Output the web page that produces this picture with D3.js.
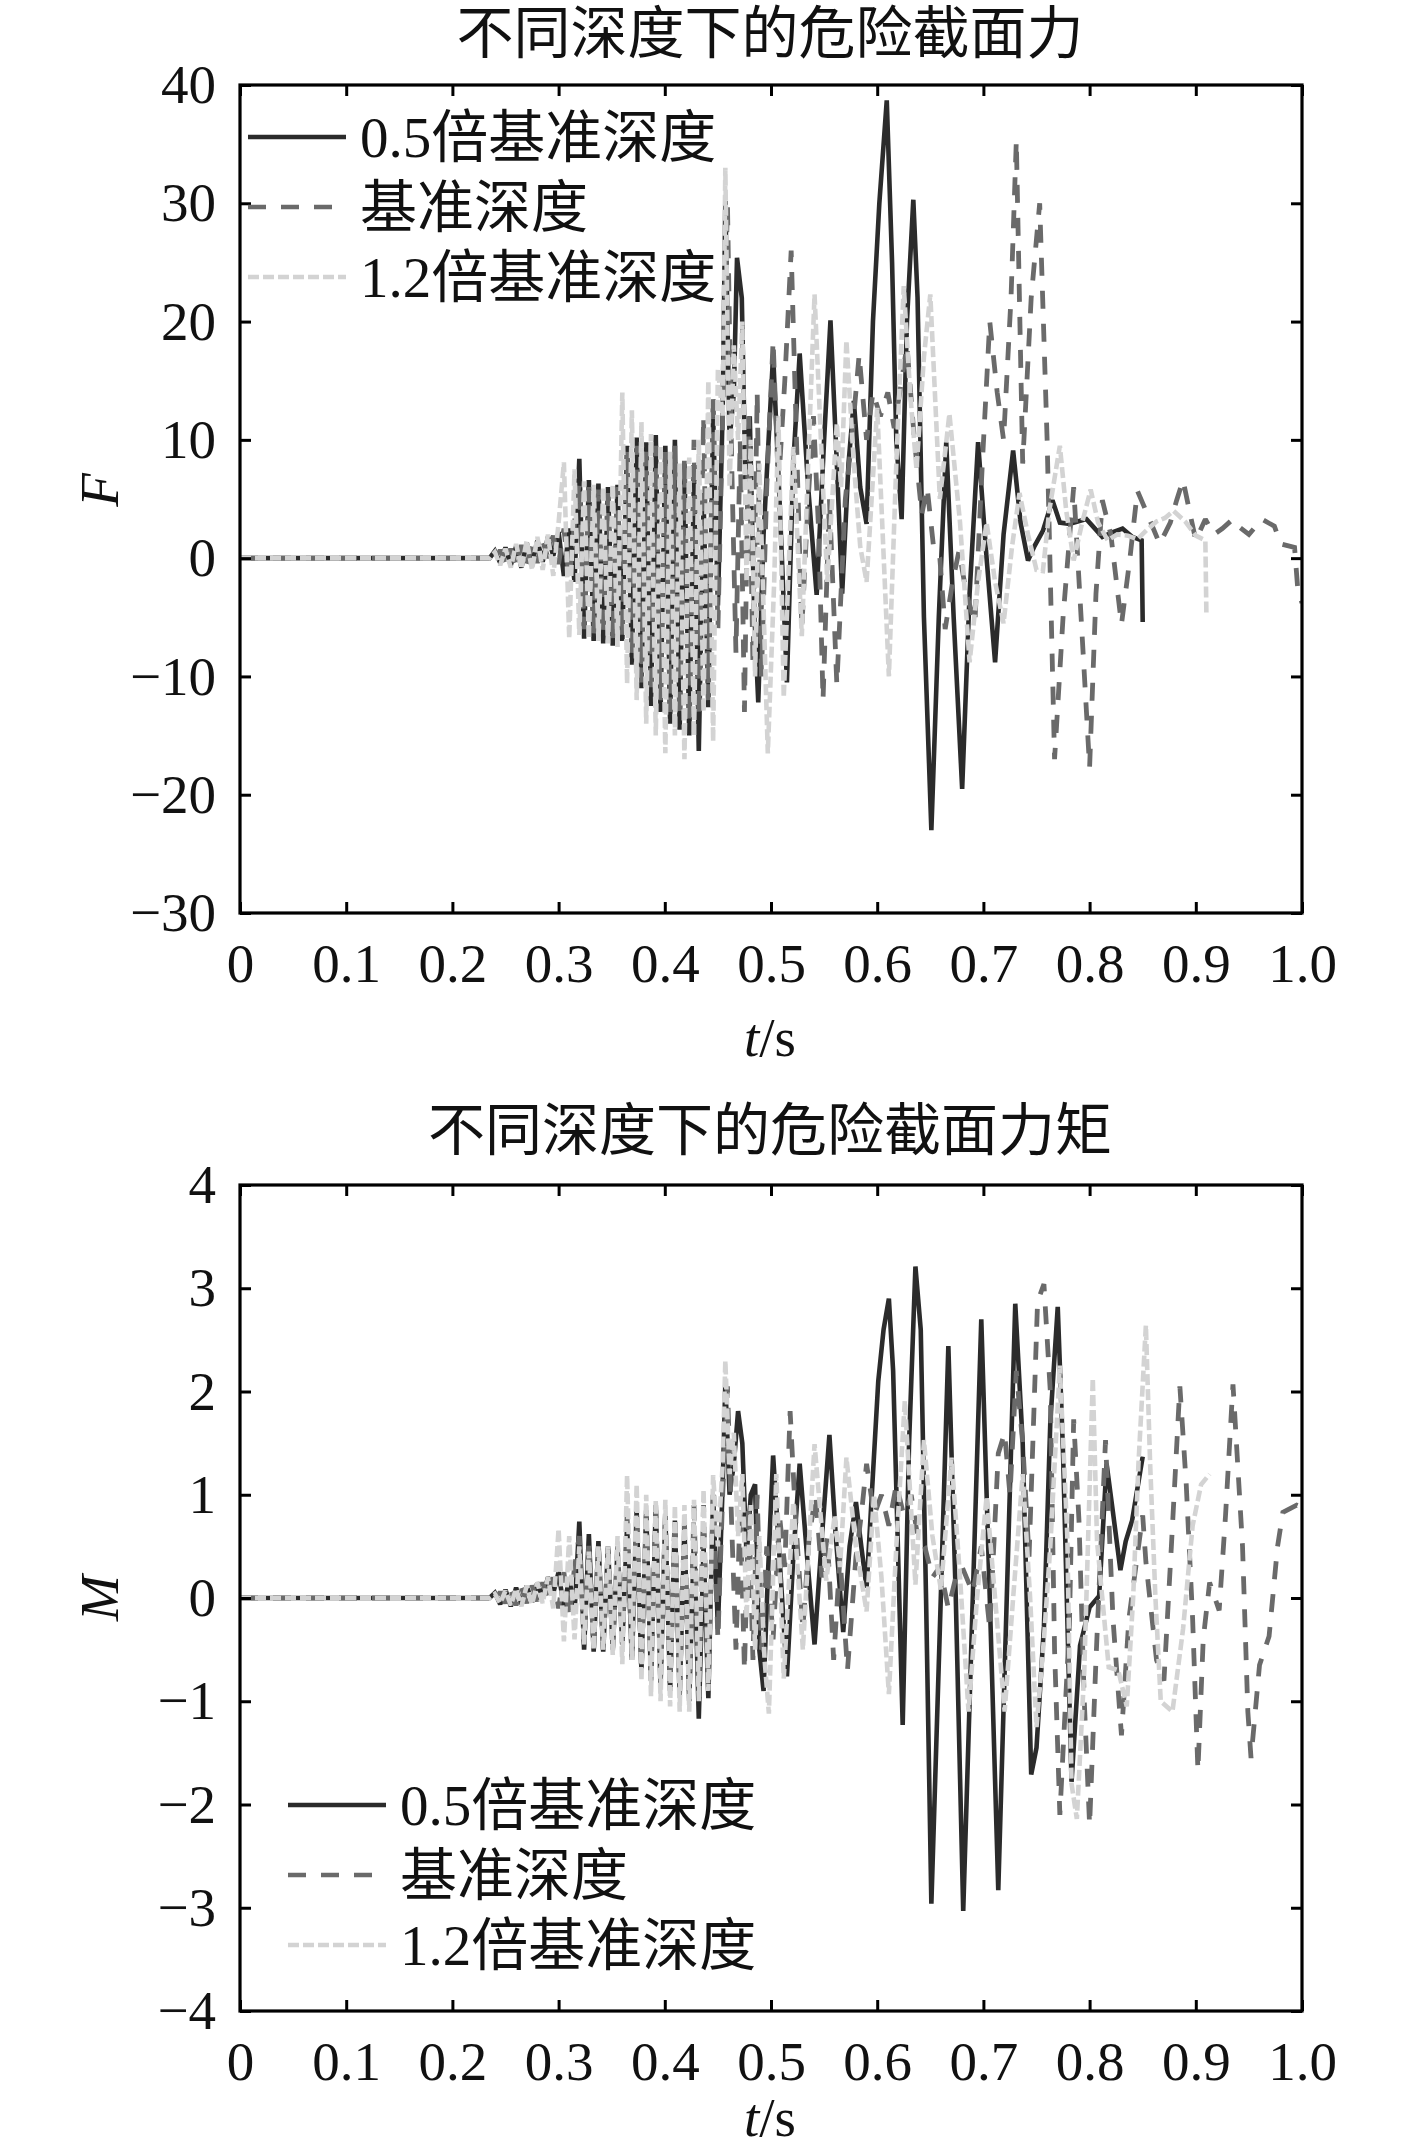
<!DOCTYPE html>
<html><head><meta charset="utf-8">
<script src="https://cdn.jsdelivr.net/npm/d3@7"></script>
<style>
html,body{margin:0;padding:0;background:#fff;}
svg{display:block;}
</style>
</head><body>
<svg id="chart" width="1417" height="2151"></svg>
<script>
// ---------- DATA ----------
const seriesNames = ["0.5倍基准深度", "基准深度", "1.2倍基准深度"];
const chartTitles = ["不同深度下的危险截面力", "不同深度下的危险截面力矩"];
const yLabels = ["F", "M"];
const xTicks = [0,0.1,0.2,0.3,0.4,0.5,0.6,0.7,0.8,0.9,1.0];
const fTicks = [-30,-20,-10,0,10,20,30,40];
const mTicks = [-4,-3,-2,-1,0,1,2,3,4];

// common time grid of the dense early part (s)
const tEarly = [0,0.235,0.24,0.245,0.25,0.255,0.26,0.265,0.27,0.275,0.28,0.285,0.29,0.295,0.300,0.305,0.310,0.315,
  0.3195,0.324,0.3285,0.333,0.3375,0.342,0.3465,0.351,0.3555,0.360,0.3645,0.369,0.3735,0.378,0.3825,0.387,0.3915,0.396,
  0.4005,0.405,0.4095,0.414,0.4185,0.423,0.4275,0.432,0.4365,0.441,0.4455,0.450,0.4545];

// ---- F, 0.5x ----
const fEarly05 = [0,0,0.6,-0.4,0.9,-0.6,1.0,-0.8,1.3,-0.5,1.5,-0.3,1.8,0.2,2.2,-1.5,2.5,-2.0,
  8.4,-6.8,6.6,-7.0,6.3,-7.2,6.0,-7.4,6.2,-7.0,9.5,-9.0,10.2,-11.0,9.8,-12.5,10.4,-13.0,
  9.5,-14.0,10.0,-14.5,8.0,-15.0,7.0,-16.3,5.0,-12.6,12.0,-4.0,12.5];
const fLateT05 = [0.457,0.461,0.465,0.468,0.4725,0.476,0.48,0.484,0.488,0.493,
  0.502,0.508,0.515,0.521,0.527,0.535,0.543,0.55,0.556,0.562,
  0.567,0.573,0.578,0.584,0.590,0.596,0.602,0.609,0.614,0.618,
  0.623,0.628,0.634,0.638,0.644,0.651,0.658,0.665,0.672,0.680,
  0.687,0.695,0.703,0.711,0.719,0.728,0.735,0.742,0.748,0.756,
  0.765,0.772,0.781,0.797,0.812,0.822,0.831,0.840,0.849,0.850];
const fLateV05 = [30.2,10,14,25.4,22,6,12,-4,-12.2,2,
  17.2,5,-10.5,8,17.3,6,-3.1,10,20.1,8,
  -3.0,8,13.3,6,2.9,20,30,38.7,25,10,
  3.3,20,30.3,22,-5,-23,-5,9.8,-5,-19.5,
  -3,9.8,0,-8.8,2,9.1,3,-0.2,1,2.3,
  4.9,3.0,2.9,3.3,1.8,2.2,2.5,1.8,1.5,-5.4];

// ---- F, base ----
const fEarlyB = [0,0,-0.3,0.7,-0.5,0.8,-0.7,1.1,-0.6,1.2,-0.4,1.5,0,1.9,-0.5,2.5,-1.8,3.0,
  6.5,-6.0,6.0,-6.5,5.8,-6.6,5.5,-7.0,6.0,-6.8,9,-8.5,9.5,-10.5,9.0,-11.5,9.5,-12.0,
  9,-13,9.5,-13.5,8.5,-14,10,-13.5,12,-12,14,-6,12];
const fLateTB = [0.459,0.463,0.467,0.471,0.475,0.479,0.483,0.487,0.491,0.496,
  0.502,0.507,0.513,0.519,0.524,0.529,0.535,0.540,0.545,0.549,
  0.555,0.562,0.57,0.576,0.583,0.590,0.596,0.603,0.610,0.616,
  0.623,0.628,0.635,0.642,0.647,0.653,0.659,0.664,0.671,0.677,
  0.684,0.692,0.699,0.706,0.713,0.719,0.726,0.731,0.737,0.745,
  0.753,0.760,0.767,0.775,0.785,0.792,0.8,0.806,0.812,0.82,
  0.83,0.838,0.845,0.854,0.866,0.876,0.882,0.888,0.894,0.900,
  0.909,0.917,0.925,0.935,0.94,0.95,0.962,0.974,0.98,0.993,
  0.996,1.0];
const fLateVB = [30,8,-8,10,-13,12,-9,14,-10,6,
  18.4,6,15,26,10,-6,5,12,2,-12,
  5,-10.7,5,10,17.2,10,14,12,14,11,
  15,18,10,3.7,6,1,0,-6,-2,0.6,
  -3,-5.5,8,20,14,10,22,35.3,8,22,
  30,10,-17,-5,6,-5,-17.7,-3,4.9,2,
  -5.6,0,5.7,3.8,1.2,3,4.9,6.6,4,1.5,
  3.3,2,2.5,3.3,2.7,2.0,3.3,2.7,1.2,0.9,
  -2.6,-3.8];

// ---- F, 1.2x ----
const fEarly12 = [0,0,0.5,-0.6,0.8,-0.8,1.2,-0.9,1.5,-1.0,1.8,-1.0,2.0,-1.5,3.0,8.1,-6.8,7.5,
  -6.5,6.5,-6.8,6.2,-7.0,6.0,-7.2,6.2,-7.5,14.0,-10.6,12.5,-12,11.5,-14,10.5,-15,9.5,
  -16.5,9.0,-15,8.0,-17,8.5,-15,10,-13,15,-15.5,16,12];
const fLateT12 = [0.457,0.461,0.465,0.469,0.473,0.477,0.481,0.485,0.489,0.497,
  0.503,0.507,0.512,0.521,0.529,0.535,0.541,0.548,0.553,0.562,
  0.566,0.571,0.578,0.584,0.590,0.600,0.611,0.618,0.625,0.631,
  0.637,0.644,0.650,0.659,0.668,0.678,0.687,0.695,0.703,0.711,
  0.719,0.727,0.734,0.742,0.750,0.756,0.762,0.772,0.778,0.785,
  0.793,0.801,0.808,0.817,0.826,0.836,0.845,0.854,0.863,0.871,
  0.879,0.89,0.9,0.909,0.91];
const fLateV12 = [33,6,18,10,20,-2,10,-10,8,-16.5,
  -2,12,-11.8,9.4,-6.6,8,22.3,8,-2,11.4,
  6,18.4,8,1,-2,12.7,-10,8,23,14,
  7.5,17,22.3,5,12.2,3,-8.8,-2,3,-2,
  -5.5,1,5.5,2,-1,-1.1,4,9.5,4,-0.2,
  3,5.8,3,1.5,2,1.9,1.6,2.4,3.1,3.4,
  4,3.1,1.9,1.5,-4.9];

// ---- M, 0.5x ----
const mEarly05 = [0,0,0.05,-0.06,0.08,-0.08,0.1,-0.06,0.12,-0.04,0.15,0,0.2,0.05,0.25,-0.1,0.2,-0.15,
  0.74,-0.5,0.62,-0.52,0.55,-0.52,0.5,-0.5,0.48,-0.45,0.7,-0.6,0.85,-0.7,0.85,-0.8,0.9,-0.85,
  0.8,-0.9,0.75,-0.95,0.7,-1.0,0.6,-1.17,0.5,-0.97,1.0,-0.3,1.1];
const mLateT05 = [0.457,0.461,0.465,0.469,0.473,0.477,0.481,0.485,0.489,0.493,0.497,0.502,0.508,0.515,0.521,0.527,0.534,0.541,0.548,0.555,0.561,0.568,0.574,0.58,0.585,0.59,0.596,0.601,0.606,0.611,0.615,0.62,0.624,0.63,0.636,0.641,0.646,0.651,0.659,0.667,0.674,0.681,0.69,0.698,0.706,0.714,0.722,0.73,0.737,0.745,0.75,0.757,0.763,0.77,0.775,0.783,0.791,0.8,0.809,0.816,0.822,0.829,0.834,0.84,0.85];
const mLateV05 = [2.08,1.0,1.3,1.81,1.5,0.4,1.0,1.1,-0.5,-0.9,0.2,1.38,0.4,-0.76,0.4,1.3,0.4,-0.45,0.6,1.58,0.6,-0.33,0.5,0.93,0.5,0.1,1.2,2.1,2.6,2.9,2.2,0.3,-1.23,1.5,3.21,2.6,0,-2.96,-0.3,2.44,0,-3.03,0,2.7,0,-2.83,0,2.85,1.5,-1.71,-1.45,-0.28,1.7,2.82,1.4,-1.78,-0.46,-0.09,0.02,1.3,0.83,0.27,0.55,0.75,1.37];

// ---- M, base ----
const mEarlyB = [0,0,-0.04,0.06,-0.05,0.08,-0.07,0.1,-0.05,0.12,-0.03,0.15,0,0.2,-0.1,0.25,-0.2,0.3,
  0.6,-0.45,0.55,-0.5,0.5,-0.5,0.48,-0.48,0.5,-0.45,0.8,-0.6,0.8,-0.7,0.8,-0.75,0.85,-0.8,
  0.8,-0.85,0.8,-0.9,0.75,-0.9,0.9,-0.9,0.9,-0.8,1.0,-0.4,1.0];
const mLateTB = [0.459,0.463,0.467,0.471,0.475,0.479,0.483,0.487,0.491,0.496,0.502,0.508,0.513,0.518,0.523,0.53,0.536,0.542,0.548,0.553,0.559,0.565,0.572,0.58,0.585,0.59,0.597,0.604,0.611,0.618,0.625,0.632,0.638,0.645,0.652,0.659,0.667,0.674,0.68,0.69,0.698,0.706,0.714,0.72,0.725,0.731,0.737,0.743,0.751,0.757,0.763,0.767,0.772,0.781,0.785,0.79,0.795,0.8,0.806,0.815,0.822,0.83,0.837,0.85,0.853,0.863,0.87,0.877,0.885,0.891,0.897,0.902,0.907,0.913,0.922,0.928,0.935,0.944,0.949,0.952,0.96,0.969,0.977,0.982,0.995,1.0];
const mLateVB = [2.05,0.7,-0.5,0.9,-0.7,0.9,-0.6,1.0,-0.5,0.5,-0.4,0.8,0.3,1.81,0.8,-0.3,0.6,1.0,0.2,0.6,-0.6,0.4,-0.7,0.4,0.8,1.3,0.8,1.0,0.7,1.1,0.8,1.0,0.6,0.49,0.2,0.3,-0.1,0.2,0.3,0.05,0.5,-0.3,1.4,1.6,1.0,2.2,1.5,0.4,2.87,3.04,2.0,-0.5,-2.1,-0.26,1.73,0.75,-1.0,-2.2,-0.6,1.53,-0.2,-1.33,-0.2,0.8,0.35,-0.6,-0.8,0.5,2.05,1.1,-0.2,-1.67,-0.4,0.15,-0.12,0.8,2.07,0.5,-1.1,-1.55,-0.65,-0.37,0.5,0.83,0.9,0.88];

// ---- M, 1.2x ----
const mEarly12 = [0,0,0.04,-0.05,0.07,-0.07,0.09,-0.08,0.12,-0.06,0.15,-0.05,0.2,-0.1,0.67,-0.42,0.6,-0.4,
  0.5,-0.45,0.45,-0.5,0.5,-0.5,0.5,-0.55,0.6,-0.64,1.19,-0.6,1.1,-0.8,1.0,-0.95,0.95,-1.0,
  0.95,-1.05,0.9,-1.1,0.9,-1.1,0.95,-1.0,1.05,-0.9,1.19,0.5,1.3];
const mLateT12 = [0.457,0.461,0.465,0.469,0.473,0.477,0.481,0.485,0.489,0.494,0.498,0.505,0.512,0.521,0.53,0.541,0.552,0.56,0.565,0.571,0.58,0.59,0.597,0.604,0.611,0.618,0.626,0.636,0.644,0.652,0.66,0.67,0.678,0.686,0.694,0.703,0.711,0.72,0.728,0.737,0.744,0.75,0.757,0.763,0.772,0.779,0.783,0.788,0.795,0.803,0.807,0.818,0.827,0.835,0.841,0.846,0.853,0.857,0.862,0.867,0.878,0.888,0.897,0.905,0.913];
const mLateV12 = [2.3,1.2,1.6,0.6,1.2,-0.2,0.9,-0.5,0.6,-0.6,-1.12,1.2,-0.78,0.93,-0.5,1.49,0.17,0.8,0.3,1.36,0.5,-0.13,1.0,0.2,-0.93,0.5,1.91,0.13,1.53,0.6,0.08,1.36,0.2,-1.1,0,0.98,0,-1.1,0,1.2,0,-1.25,-0.4,0.5,2.25,0.6,-1.8,-2.14,-0.7,2.13,0.55,-0.67,-0.7,-1.05,0,1.3,2.64,1.3,0,-1.0,-1.1,-0.3,0.7,1.1,1.2];

// ---------- BUILD ----------
const zip = (ts, vs) => ts.map((t, i) => ({t: t, v: vs[i]}));
const fSeries = [
  zip(tEarly, fEarly05).concat(zip(fLateT05, fLateV05)),
  zip(tEarly, fEarlyB).concat(zip(fLateTB, fLateVB)),
  zip(tEarly, fEarly12).concat(zip(fLateT12, fLateV12))
];
const mSeries = [
  zip(tEarly, mEarly05).concat(zip(mLateT05, mLateV05)),
  zip(tEarly, mEarlyB).concat(zip(mLateTB, mLateVB)),
  zip(tEarly, mEarly12).concat(zip(mLateT12, mLateV12))
];

const styles = [
  {color: "#2b2b2b", width: 4.6, dash: null},
  {color: "#6a6a6a", width: 4.8, dash: "18,15"},
  {color: "#d3d3d3", width: 4.6, dash: "11,4"}
];

const serif = "'Liberation Serif','Times New Roman',serif";
const cjk = "'Liberation Serif','Noto Sans CJK SC',serif";

const svg = d3.select("#chart");
svg.append("rect").attr("width",1417).attr("height",2151).attr("fill","#fff");

const X0 = 240, X1 = 1302;

function drawPanel(cfg) {
  const x = d3.scaleLinear().domain([0, 1]).range([X0, X1]);
  const y = d3.scaleLinear().domain(cfg.yDomain).range([cfg.y1, cfg.y0]);
  const g = svg.append("g");

  // title
  g.append("text").attr("x", 770).attr("y", cfg.titleY)
    .attr("text-anchor", "middle").attr("font-family", cjk).attr("font-size", 57)
    .attr("fill", "#111").text(cfg.title);

  // lines
  const clipId = "clip" + cfg.id;
  svg.append("clipPath").attr("id", clipId).append("rect")
    .attr("x", X0).attr("y", cfg.y0).attr("width", X1 - X0).attr("height", cfg.y1 - cfg.y0);
  const line = d3.line().x(d => x(d.t)).y(d => y(d.v)).curve(d3.curveLinear);
  const lg = g.append("g").attr("clip-path", "url(#" + clipId + ")");
  cfg.series.forEach((s, i) => {
    const st = styles[i];
    lg.append("path").datum(s).attr("d", line)
      .attr("fill", "none").attr("stroke", st.color).attr("stroke-width", st.width)
      .attr("stroke-linejoin", "miter").attr("stroke-miterlimit", 2)
      .attr("stroke-dasharray", st.dash);
  });

  // axes with inward ticks
  const xFmt = d => d === 0 ? "0" : d3.format(".1f")(d);
  const bottom = g.append("g").attr("transform", `translate(0,${cfg.y1})`)
    .call(d3.axisBottom(x).tickValues(xTicks).tickFormat(xFmt).tickSizeInner(-11).tickSizeOuter(0).tickPadding(30));
  const top = g.append("g").attr("transform", `translate(0,${cfg.y0})`)
    .call(d3.axisTop(x).tickValues(xTicks).tickFormat("").tickSizeInner(-11).tickSizeOuter(0));
  const left = g.append("g").attr("transform", `translate(${X0},0)`)
    .call(d3.axisLeft(y).tickValues(cfg.yTicks).tickFormat(d3.format("d")).tickSizeInner(-11).tickSizeOuter(0).tickPadding(24));
  const right = g.append("g").attr("transform", `translate(${X1},0)`)
    .call(d3.axisRight(y).tickValues(cfg.yTicks).tickFormat("").tickSizeInner(-11).tickSizeOuter(0));
  [bottom, top, left, right].forEach(a => {
    a.select(".domain").remove();
    a.selectAll(".tick line").attr("stroke", "#000").attr("stroke-width", 3);
    a.selectAll("text").attr("font-family", serif).attr("font-size", 55).attr("fill", "#111");
  });

  // frame
  g.append("rect").attr("x", X0).attr("y", cfg.y0).attr("width", X1 - X0).attr("height", cfg.y1 - cfg.y0)
    .attr("fill", "none").attr("stroke", "#000").attr("stroke-width", 3.2);

  // x label
  const xl = g.append("text").attr("x", 770).attr("y", cfg.xLabelY)
    .attr("text-anchor", "middle").attr("font-family", serif).attr("font-size", 55).attr("fill", "#111");
  xl.append("tspan").attr("font-style", "italic").text("t");
  xl.append("tspan").text("/s");

  // y label
  g.append("text").attr("transform", `translate(118,${cfg.yLabelY}) rotate(-90)`)
    .attr("text-anchor", "middle").attr("font-family", serif).attr("font-style", "italic")
    .attr("font-size", 55).attr("fill", "#111").text(cfg.yLabel);

  // legend
  const leg = g.append("g");
  seriesNames.forEach((name, i) => {
    const st = styles[i];
    const ly = cfg.legY + i * 70;
    leg.append("line").attr("x1", cfg.legX).attr("x2", cfg.legX + 98).attr("y1", ly).attr("y2", ly)
      .attr("stroke", st.color).attr("stroke-width", 4.5)
      .attr("stroke-dasharray", st.dash);
    leg.append("text").attr("x", cfg.legTextX).attr("y", ly + 20)
      .attr("font-family", cjk).attr("font-size", 57).attr("fill", "#111").text(name);
  });
}

drawPanel({id: 1, title: chartTitles[0], titleY: 53, y0: 85, y1: 913, yDomain: [-30, 40], yTicks: fTicks,
  series: fSeries, yLabel: yLabels[0], yLabelY: 490, xLabelY: 1056, legX: 248, legTextX: 360, legY: 137});
drawPanel({id: 2, title: chartTitles[1], titleY: 1150, y0: 1185, y1: 2011, yDomain: [-4, 4], yTicks: mTicks,
  series: mSeries, yLabel: yLabels[1], yLabelY: 1598, xLabelY: 2136, legX: 288, legTextX: 400, legY: 1805});
</script>
</body></html>
